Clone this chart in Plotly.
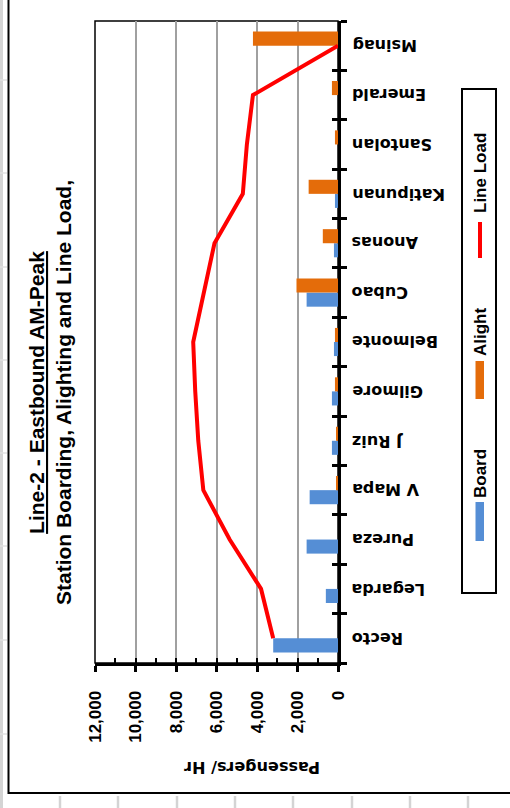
import plotly.graph_objects as go

# Line-2 eastbound stations, listed west to east (drawn bottom to top)
stations = ["Recto", "Legarda", "Pureza", "V Mapa", "J Ruiz", "Gilmore", "Belmonte",
            "Cubao", "Anonas", "Katipunan", "Santolan", "Emerald", "Msinag"]
board = [3200, 600, 1550, 1400, 300, 300, 200, 1550, 200, 150, 0, 0, 0]
alight = [0, 0, 0, 50, 50, 150, 150, 2050, 750, 1450, 150, 300, 4200]
line_load = [3200, 3800, 5350, 6650, 6900, 7050, 7150, 6650, 6100, 4700, 4500, 4200, 0]

value_ticks = [0, 2000, 4000, 6000, 8000, 10000, 12000]
value_tick_text = ["0", "2,000", "4,000", "6,000", "8,000", "10,000", "12,000"]

series_names = ["Board", "Alight", "Line Load"]
series_colors = ["#558ed5", "#e46c0a", "#ff0000"]

title_lines = ["Line-2 - Eastbound AM-Peak", "Station Boarding, Alighting and Line Load,"]
value_title = "Passengers/ Hr"

# page geometry (pixels)
W, H = 510, 808
ML, MR, MT, MB = 95, 172, 21, 145
PW = W - ML - MR
PH = H - MT - MB


def fx(px):
    return (px - ML) / PW


def fy(py):
    return 1 - (py - MT) / PH


ARIAL = "Liberation Sans, Arial, sans-serif"
WIDE = "DejaVu Sans, Verdana, sans-serif"

fig = go.Figure()
fig.add_trace(go.Bar(name=series_names[0], y=stations, x=board, orientation="h",
                     marker=dict(color=series_colors[0], line_width=0)))
fig.add_trace(go.Bar(name=series_names[1], y=stations, x=alight, orientation="h",
                     marker=dict(color=series_colors[1], line_width=0)))
fig.add_trace(go.Scatter(name=series_names[2], y=stations, x=line_load, mode="lines",
                         line=dict(color=series_colors[2], width=4)))
# carrier trace for the companion axes that draw the inner tick marks
fig.add_trace(go.Scatter(y=stations, x=line_load, mode="none", xaxis="x2", yaxis="y2",
                         showlegend=False, hoverinfo="skip"))

axis_range = [12000, 0]
cat_range = [-0.5, len(stations) - 0.5]

fig.update_layout(
    width=W, height=H, autosize=False,
    margin=dict(l=ML, r=MR, t=MT, b=MB, pad=0),
    paper_bgcolor="white", plot_bgcolor="white",
    showlegend=False,
    barmode="group", bargap=0.43, bargroupgap=0,
    xaxis=dict(
        range=axis_range, tickmode="array", tickvals=value_ticks, ticktext=value_tick_text,
        ticks="outside", ticklen=6, tickwidth=2.5, tickcolor="black",
        tickangle=-90, ticklabelstandoff=12,
        tickfont=dict(family=ARIAL, size=17, color="black", weight="bold"),
        showline=True, linewidth=3, linecolor="black",
        showgrid=True, gridcolor="#a0a0a0", gridwidth=1.5, zeroline=False,
    ),
    yaxis=dict(
        type="category", categoryorder="array", categoryarray=stations, range=cat_range,
        side="right", showline=True, linewidth=3, linecolor="black",
        ticks="outside", ticklen=6, tickwidth=2.5, tickcolor="black", tickson="boundaries",
        showticklabels=False, showgrid=False, zeroline=False,
    ),
    xaxis2=dict(
        overlaying="x", anchor="y", side="bottom", range=axis_range,
        tickmode="linear", tick0=0, dtick=1000,
        ticks="inside", ticklen=5, tickwidth=2, tickcolor="black",
        showticklabels=False, showgrid=False, showline=False, zeroline=False,
    ),
    yaxis2=dict(
        overlaying="y", anchor="x", side="right", type="category",
        categoryorder="array", categoryarray=stations, range=cat_range,
        ticks="inside", ticklen=6, tickwidth=2.5, tickcolor="black", tickson="boundaries",
        showticklabels=False, showgrid=False, showline=False, zeroline=False,
    ),
)

annotations = []
# station names beside the category axis
for s in stations:
    annotations.append(dict(
        text=f"<b>{s}</b>", x=1, xref="paper", y=s, yref="y",
        xanchor="left", yanchor="middle", xshift=12, textangle=180, showarrow=False,
        font=dict(family=WIDE, size=16, color="black"),
    ))
# chart title
annotations.append(dict(
    text=f"<b><u>{title_lines[0]}</u><br>{title_lines[1]}</b>",
    x=fx(50), y=fy(393), xref="paper", yref="paper",
    xanchor="center", yanchor="middle", align="center", textangle=-90, showarrow=False,
    font=dict(family=ARIAL, size=21, color="black"),
))
# value axis title
annotations.append(dict(
    text=f"<b>{value_title}</b>", x=fx(252), y=fy(768), xref="paper", yref="paper",
    xanchor="center", yanchor="middle", textangle=180, showarrow=False,
    font=dict(family=WIDE, size=16, color="black"),
))
# legend labels
legend_text_y = [474, 332, 173]
for name, ty in zip(series_names, legend_text_y):
    annotations.append(dict(
        text=f"<b>{name}</b>", x=fx(480), y=fy(ty), xref="paper", yref="paper",
        xanchor="center", yanchor="middle", textangle=-90, showarrow=False,
        font=dict(family=ARIAL, size=17, color="black"),
    ))
fig.update_layout(annotations=annotations)

shapes = []
# worksheet cell lines outside the chart frame
shapes.append(dict(type="line", xref="paper", yref="paper", x0=fx(1.5), x1=fx(1.5),
                   y0=fy(0), y1=fy(808), line=dict(color="#d4d4d4", width=3)))
for ry in [80, 173, 267, 360, 453, 546, 640, 734]:
    shapes.append(dict(type="line", xref="paper", yref="paper", x0=fx(0), x1=fx(7),
                       y0=fy(ry), y1=fy(ry), line=dict(color="#e0e0e0", width=1.5)))
for cx in [60, 118, 177, 235, 293, 352, 410, 468]:
    shapes.append(dict(type="line", xref="paper", yref="paper", x0=fx(cx), x1=fx(cx),
                       y0=fy(796), y1=fy(808), line=dict(color="#d4d4d4", width=2.5)))
# chart frame
shapes.append(dict(type="rect", xref="paper", yref="paper", x0=fx(8.5), x1=fx(530),
                   y0=fy(-20), y1=fy(793), line=dict(color="black", width=2)))
# plot area border
shapes.append(dict(type="rect", xref="paper", yref="paper", x0=0, x1=1, y0=0, y1=1,
                   line=dict(color="black", width=1.5), layer="below"))
# legend box and keys
shapes.append(dict(type="rect", xref="paper", yref="paper", x0=fx(462), x1=fx(496),
                   y0=fy(89), y1=fy(593), line=dict(color="black", width=2)))
shapes.append(dict(type="rect", xref="paper", yref="paper", x0=fx(475.5), x1=fx(484),
                   y0=fy(502), y1=fy(541), fillcolor=series_colors[0], line_width=0))
shapes.append(dict(type="rect", xref="paper", yref="paper", x0=fx(475.5), x1=fx(484),
                   y0=fy(361), y1=fy(399), fillcolor=series_colors[1], line_width=0))
shapes.append(dict(type="line", xref="paper", yref="paper", x0=fx(480), x1=fx(480),
                   y0=fy(222), y1=fy(258), line=dict(color=series_colors[2], width=4)))
fig.update_layout(shapes=shapes)

fig.write_html("out.html")
